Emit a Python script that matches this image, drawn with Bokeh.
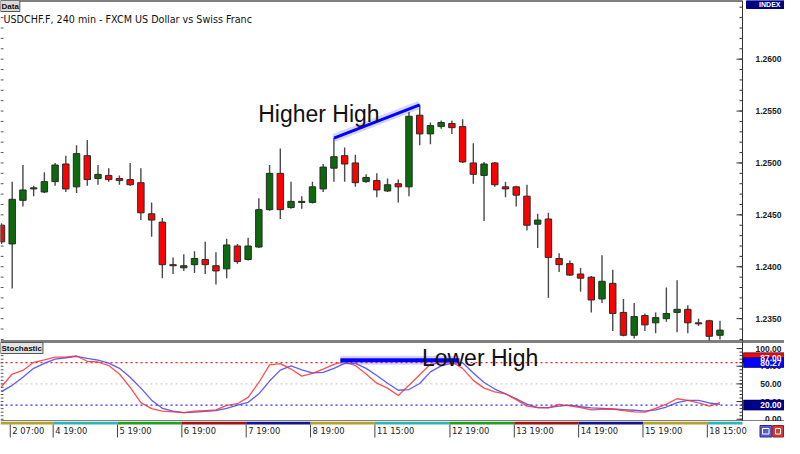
import numpy as np
from bokeh.plotting import figure
from bokeh.layouts import column
from bokeh.models import Range1d, Span, Label, ColumnDataSource
from bokeh.core.properties import value
from bokeh.embed import file_html
from bokeh.resources import INLINE

# ---------------- data ----------------
open_ = [1.2440, 1.2422, 1.2464, 1.2475, 1.2472, 1.2482, 1.2499, 1.2477, 1.2507, 1.2485,
         1.2488, 1.2485, 1.2484, 1.2481, 1.2451, 1.2443, 1.2402, 1.2399, 1.2402, 1.2407,
         1.2401, 1.2398, 1.2420, 1.2407, 1.2419, 1.2455, 1.2490, 1.2457, 1.2462, 1.2462,
         1.2475, 1.2495, 1.2507, 1.2500, 1.2482, 1.2483, 1.2473, 1.2480, 1.2477, 1.2546,
         1.2528, 1.2535, 1.2538, 1.2535, 1.2500, 1.2488, 1.2500, 1.2477, 1.2477, 1.2468,
         1.2441, 1.2446, 1.2408, 1.2403, 1.2393, 1.2390, 1.2369, 1.2384, 1.2356, 1.2334,
         1.2353, 1.2346, 1.2350, 1.2356, 1.2359, 1.2346, 1.2348, 1.2334]
high = [1.2442, 1.2482, 1.2498, 1.2478, 1.2491, 1.2500, 1.2507, 1.2517, 1.2522, 1.2498,
        1.2495, 1.2488, 1.2500, 1.2495, 1.2462, 1.2447, 1.2409, 1.2412, 1.2415, 1.2424,
        1.2414, 1.2427, 1.2422, 1.2428, 1.2466, 1.2498, 1.2514, 1.2482, 1.2468, 1.2482,
        1.2499, 1.2524, 1.2515, 1.2508, 1.2489, 1.2490, 1.2485, 1.2484, 1.2549, 1.2556,
        1.2539, 1.2541, 1.2541, 1.2542, 1.2519, 1.2501, 1.2501, 1.2482, 1.2478, 1.2479,
        1.2451, 1.2452, 1.2413, 1.2406, 1.2399, 1.2391, 1.2411, 1.2397, 1.2369, 1.2365,
        1.2355, 1.2356, 1.2380, 1.2387, 1.2363, 1.2350, 1.2349, 1.2348]
low = [1.2422, 1.2379, 1.2458, 1.2468, 1.2471, 1.2478, 1.2472, 1.2471, 1.2478, 1.2479,
       1.2482, 1.2479, 1.2478, 1.2445, 1.2429, 1.2389, 1.2393, 1.2396, 1.2394, 1.2393,
       1.2383, 1.2389, 1.2403, 1.2406, 1.2418, 1.2454, 1.2446, 1.2456, 1.2456, 1.2461,
       1.2472, 1.2482, 1.2482, 1.2477, 1.2481, 1.2467, 1.2472, 1.2462, 1.2468, 1.2517,
       1.2518, 1.2533, 1.2528, 1.2500, 1.2480, 1.2444, 1.2477, 1.2467, 1.2458, 1.2435,
       1.2418, 1.2370, 1.2395, 1.2391, 1.2376, 1.2356, 1.2365, 1.2338, 1.2333, 1.2331,
       1.2338, 1.2336, 1.2347, 1.2337, 1.2336, 1.2343, 1.2329, 1.2330]
close = [1.2424, 1.2465, 1.2474, 1.2476, 1.2482, 1.2498, 1.2475, 1.2509, 1.2484, 1.2489,
         1.2484, 1.2483, 1.2479, 1.2452, 1.2445, 1.2402, 1.2401, 1.2401, 1.2408, 1.2402,
         1.2396, 1.2421, 1.2405, 1.2420, 1.2455, 1.2490, 1.2455, 1.2463, 1.2463, 1.2477,
         1.2496, 1.2506, 1.2499, 1.2481, 1.2486, 1.2474, 1.2479, 1.2477, 1.2545, 1.2528,
         1.2536, 1.2539, 1.2534, 1.2501, 1.2489, 1.2499, 1.2479, 1.2475, 1.2469, 1.2440,
         1.2445, 1.2409, 1.2402, 1.2392, 1.2389, 1.2368, 1.2386, 1.2355, 1.2334, 1.2352,
         1.2344, 1.2351, 1.2355, 1.2359, 1.2346, 1.2345, 1.2333, 1.2339]

stoch_k = [46, 64, 69, 80.5, 84, 88, 88, 89.5, 82, 81,
           76, 64, 45, 23.6, 15, 11.4, 10.5, 9.5, 11.4, 12.3,
           13.2, 19.5, 22, 31, 52, 77, 78.6, 71, 61, 65,
           71, 77.7, 81.4, 76, 64, 51, 44, 33.6, 48, 63,
           77.7, 80.5, 81, 72, 55, 44, 38.6, 36, 27.7, 18.6,
           16.4, 16, 21, 19, 16.4, 13.2, 14, 14.5, 12.3, 10.5,
           10, 15.5, 21.4, 29, 26.8, 23, 18.6, 23.6]
stoch_d = [39, 48, 59.5, 72, 79, 85, 87, 89, 86, 83.6,
           79.5, 72, 59.5, 44, 27, 15.5, 11.4, 9.5, 10, 11,
           12.3, 15.5, 20, 24, 36, 54, 69.5, 75.5, 70, 65.5,
           66.4, 72, 79, 79, 72, 62, 51, 41, 42, 50.5,
           67, 75.5, 79.5, 80, 65.5, 52, 42.7, 36, 29, 21.4,
           16.4, 16.4, 18.6, 20, 17.7, 16, 15.5, 14.5, 13.6, 12.7,
           11.4, 13.2, 17.3, 23.6, 26.8, 26.8, 23, 21]

price_ticks = [1.2350, 1.2400, 1.2450, 1.2500, 1.2550, 1.2600]
price_tick_labels = ["1.2350", "1.2400", "1.2450", "1.2500", "1.2550", "1.2600"]
stoch_ticks = [0, 25, 50, 75, 100]
stoch_tick_labels = ["0.00", "25.00", "50.00", "75.00", "100.00"]

tick_candles = [2, 6, 12, 18, 24, 30, 36, 43, 49, 55, 61, 67]
tick_labels = ["2 07:00", "4 19:00", "5 19:00", "6 19:00", "7 19:00", "8 19:00",
               "11 15:00", "12 19:00", "13 19:00", "14 19:00", "15 19:00", "18 15:00"]
day_colors = ["#b5a22e", "#33b3b3", "#22a022", "#a01414", "#14148c", "#b5a22e",
              "#33b3b3", "#22a022", "#a01414", "#14148c", "#b5a22e", "#33b3b3"]

higher_high_candles = [32, 40]
lower_high_candles = [33, 43]
stoch_levels = [80, 50, 20]
stoch_level_colors = ["#ff1a1a", "#d0d0d0", "#2a2aff"]
mark_texts = ["87.00", "80.27", "20.00"]
mark_values = [87.0, 80.27, 20.0]
mark_colors = ["#ff0000", "#0000ff", "#000088"]

title_text = "USDCHF.F, 240 min - FXCM US Dollar vs Swiss Franc"

# ---------------- layout ----------------
W = 784
AXIS_W = 42
H_MAIN, H_STOCH, H_STRIP = 341, 80, 17
x_start, x_end = 0.909, 70.1          # candle-index extent of the plotting area
ppi = (W - AXIS_W) / (x_end - x_start)  # screen px per candle
x_right = x_start + W / ppi            # right edge of the canvas in candle units
y1_bot, y1_top = 1.2328, 1.26565
y2_bot, y2_top = -3.2, 110.0
u1 = (y1_top - y1_bot) / H_MAIN        # price per px
u2 = (y2_top - y2_bot) / H_STOCH       # stoch units per px

def fx(px):
    return x_start + px / ppi

xr = Range1d(x_start, x_right)

def make_fig(h, yr):
    p = figure(width=W, height=h, x_range=xr, y_range=yr, output_backend="svg",
               toolbar_location=None, title=None, x_axis_location=None,
               y_axis_location=None, min_border=0)
    p.grid.visible = False
    p.outline_line_color = None
    p.background_fill_color = "white"
    p.border_fill_color = "white"
    return p

LBL = dict(text_font=value("Liberation Sans"), text_font_style="bold",
           text_font_size=value("8.5px"), text_baseline="middle", text_align="right")

def right_axis(p, ticks, labels, minor):
    p.add_layout(Span(location=x_end, dimension="height", line_color="#333", line_width=1))
    p.segment(x0=x_end - 6 / ppi, y0=ticks, x1=x_end, y1=ticks, line_color="#333", line_width=1)
    p.segment(x0=x_end - 3 / ppi, y0=minor, x1=x_end, y1=minor, line_color="#333", line_width=1)
    # faint tick marks along the left edge, as in the reference
    p.segment(x0=x_start, y0=minor, x1=x_start + 3 / ppi, y1=minor, line_color="#555",
              line_width=1)
    p.text(x=fx(W - 3), y=ticks, text=labels, text_color="#222", **LBL)

o = np.array(open_); h = np.array(high); l = np.array(low); c = np.array(close)
idx = np.arange(1, len(o) + 1)
colors = np.where(c >= o, "#0b6b0b", "#ff0000")
src = ColumnDataSource(dict(x=idx, h=h, l=l, top=np.maximum(o, c),
                            bottom=np.minimum(o, c), color=colors))

# ---------------- main price panel ----------------
p1 = make_fig(H_MAIN, Range1d(y1_bot, y1_top))
p1.segment(x0=x_start, y0=y1_top, x1=x_end, y1=y1_top, line_color="black", line_width=2)
p1.add_layout(Span(location=y1_bot, dimension="width", line_color="black", line_width=2))

p1.segment(x0="x", y0="h", x1="x", y1="l", source=src, line_color="#4a4a4a", line_width=1.4)
p1.vbar(x="x", width=0.6, top="top", bottom="bottom", fill_color="color",
        line_color="#2a2a2a", line_width=1, source=src)

minor_price = np.round(np.arange(1.2330, 1.2660, 0.001), 4)
right_axis(p1, price_ticks, price_tick_labels, minor_price)

hx = [higher_high_candles[0], higher_high_candles[1]]
hy = [h[higher_high_candles[0] - 1], h[higher_high_candles[1] - 1]]
p1.line(hx, hy, line_color="#5555ff", line_width=8, line_alpha=0.25)
p1.line(hx, hy, line_color="#0000ff", line_width=3)

# INDEX tab at the top of the price scale
p1.quad(left=[x_end + 4 / ppi], right=[x_right], bottom=[y1_top - 8 * u1], top=[y1_top],
        fill_color="#000080", line_color="#000080")
p1.text(x=[fx(W - 4)], y=[y1_top - 4 * u1], text=["INDEX"], text_color="white",
        text_font=value("Liberation Sans"), text_font_style="bold",
        text_font_size=value("7px"), text_baseline="middle", text_align="right")

p1.add_layout(Label(x=fx(0), y=y1_top, text="Data", text_align="left", text_baseline="top",
                    text_font="Liberation Sans", text_font_style="bold", text_font_size="8px",
                    text_color="#111", background_fill_color="#d9d9d9",
                    border_line_color="#555", padding=1))
p1.add_layout(Label(x=fx(3), y=y1_top - 18.8 * u1, text=title_text, text_align="left",
                    text_baseline="alphabetic", text_font="DejaVu Sans",
                    text_font_size="9.6px", text_color="#111"))
p1.add_layout(Label(x=fx(257.7), y=y1_top - 113.9 * u1, text="Higher High", text_align="left",
                    text_baseline="alphabetic", text_font="Liberation Sans",
                    text_font_size="23px", text_color="#111"))

# ---------------- stochastic panel ----------------
p2 = make_fig(H_STOCH, Range1d(y2_bot, y2_top))
p2.add_layout(Span(location=y2_top, dimension="width", line_color="black", line_width=2))
p2.add_layout(Span(location=y2_bot, dimension="width", line_color="black", line_width=2))

p2.segment(x0=x_start, y0=stoch_levels, x1=x_end, y1=stoch_levels,
           line_color=stoch_level_colors, line_dash="2 3", line_width=1.2)

p2.line(idx, stoch_d, line_color="#4040ff", line_width=1.3, line_alpha=0.85)
p2.line(idx, stoch_k, line_color="#ff3030", line_width=1.3, line_alpha=0.85)

k = np.array(stoch_k)
lh_y = max(k[lower_high_candles[0] - 1], k[lower_high_candles[1] - 1]) + 2
lx = [lower_high_candles[0] - 0.4, lower_high_candles[1] + 0.7]
p2.line(lx, [lh_y, lh_y], line_color="#5555ff", line_width=9, line_alpha=0.25)
p2.line(lx, [lh_y, lh_y], line_color="#0000ff", line_width=4)

minor_stoch = np.arange(0, 101, 5)
right_axis(p2, stoch_ticks, stoch_tick_labels, minor_stoch)

mv = np.array(mark_values)
p2.quad(left=x_end + 1 / ppi, right=x_right, bottom=mv - 5 * u2, top=mv + 5 * u2,
        fill_color=mark_colors, line_color="#000040", line_width=0.6)
p2.text(x=fx(W - 3), y=mark_values, text=mark_texts, text_color="white", **LBL)

p2.add_layout(Label(x=fx(0), y=y2_top - 1 * u2, text="Stochastic", text_align="left",
                    text_baseline="top", text_font="Liberation Sans", text_font_style="bold",
                    text_font_size="8px", text_color="#111", background_fill_color="#e4e4e4",
                    border_line_color="#555", padding=1))
p2.add_layout(Label(x=fx(421.4), y=y2_top - 16.2 * u2, text="Lower High", text_align="left",
                    text_baseline="alphabetic", text_font="Liberation Sans",
                    text_font_size="23px", text_color="#111"))

# ---------------- time strip ----------------
p3 = make_fig(H_STRIP, Range1d(0, H_STRIP))
tick_pos = np.array(tick_candles) - 0.18
seg_left = [x_start] + list(tick_pos[1:])
seg_right = list(tick_pos[1:]) + [x_end]
p3.quad(left=seg_left, right=seg_right, bottom=14, top=17, fill_color=day_colors,
        line_color=None)
p3.segment(x0=tick_pos, y0=1, x1=tick_pos, y1=14, line_color="#444", line_width=1)
p3.text(x=tick_pos + 2 / ppi, y=7.5, text=tick_labels, text_font=value("DejaVu Sans"),
        text_font_size=value("8.4px"), text_baseline="middle", text_align="left",
        text_color="#222")
# two small window buttons at the bottom right
p3.quad(left=[fx(759.5), fx(772.2)], right=[fx(771.3), fx(783)], bottom=1.5, top=13,
        fill_color=["#5a5ad2", "#d43c3c"], line_color=["#2a2a90", "#902020"])
p3.quad(left=[fx(762), fx(775)], right=[fx(768.5), fx(780)], bottom=4.5, top=10,
        fill_color=None, line_color="white", line_width=1)

layout = column(p1, p2, p3, spacing=0)
open("out.html", "w").write(file_html(layout, INLINE))
